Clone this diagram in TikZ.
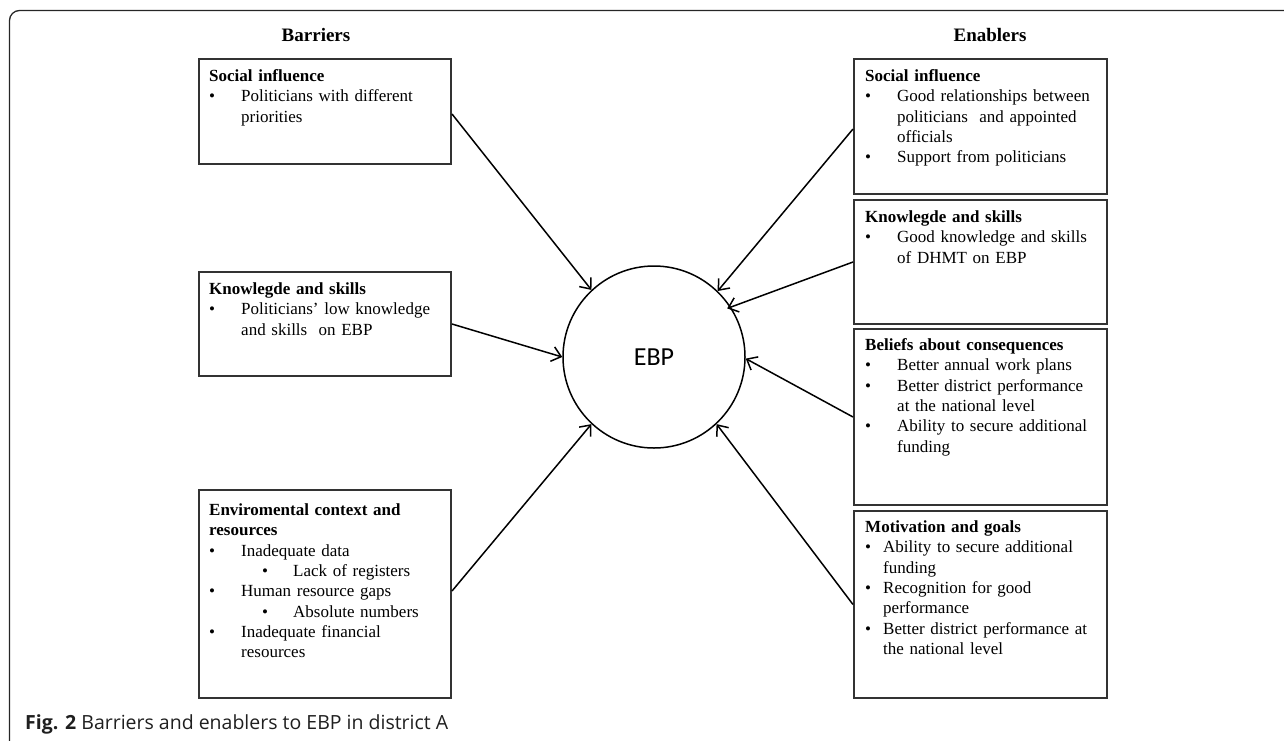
\documentclass[tikz,border=0pt]{standalone}
\usepackage{fontspec}
\setmainfont{Liberation Serif}
\newfontfamily\capfont{Open Sans}
\newfontfamily\ebpfont{Carlito}
\usetikzlibrary{arrows.meta,calc}
\newcommand\bitem[3][0pt]{\par\noindent\hangindent=\dimexpr#1+#2\relax\hangafter=1\hspace*{#1}\makebox[#2][l]{\textbullet}{\let\\\newline #3}\par}
\newcommand\boxhead[1]{\par\noindent{\let\\\newline\bfseries #1}\par}
\tikzset{
  catbox/.style={draw=black!80, line width=2pt, rectangle, inner sep=0pt, anchor=north west},
  boxtext/.style={inner sep=0pt, anchor=north west, text width=240pt, align=left,
    font=\fontsize{17}{20.3}\selectfont},
  header/.style={font=\fontsize{19}{22}\selectfont\bfseries},
  link/.style={line width=1.5pt, -{Straight Barb[length=9pt,width=15pt,line width=1.5pt]}},
}
\begin{document}
\begin{tikzpicture}[x=1pt,y=-1pt]
\useasboundingbox (0,0) rectangle (1284,740);
% frame
\draw[line width=1.3pt, black!85, rounded corners=10pt] (9.5,745) -- (9.5,10.5) -- (1290,10.5);

% headers
\node[header] (hb) at (316,35) {Barriers};
\node[header] (he) at (990,35) {Enablers};

% centre
\node[circle, draw, line width=1.5pt, minimum size=182pt, inner sep=0pt,
  font=\ebpfont\fontsize{26}{30}\selectfont] (ebp) at (654,357) {EBP};

% left boxes
\node[catbox, minimum width=252pt, minimum height=105pt] (l1) at (198,58) {};
\node[catbox, minimum width=252pt, minimum height=104pt] (l2) at (198,271) {};
\node[catbox, minimum width=252pt, minimum height=208pt] (l3) at (198,489) {};
% right boxes
\node[catbox, minimum width=253pt, minimum height=135pt] (r1) at (853,58) {};
\node[catbox, minimum width=253pt, minimum height=124pt] (r2) at (853,199) {};
\node[catbox, minimum width=253pt, minimum height=176pt] (r3) at (853,328) {};
\node[catbox, minimum width=253pt, minimum height=187pt] (r4) at (853,510) {};

% texts
\node[boxtext] (t1) at ([xshift=11pt,yshift=-3pt]l1.north west) {%
  \boxhead{Social influence}%
  \bitem{32pt}{Politicians with different\\priorities}};
\node[boxtext] (t2) at ([xshift=11pt,yshift=-3pt]l2.north west) {%
  \boxhead{Knowlegde and skills}%
  \bitem{32pt}{Politicians’ low knowledge\\and skills \ on EBP}};
\node[boxtext] (t3) at ([xshift=11pt,yshift=-6pt]l3.north west) {%
  \boxhead{Enviromental context and\\resources}%
  \bitem{32pt}{Inadequate data}%
  \bitem[53pt]{31pt}{Lack of registers}%
  \bitem{32pt}{Human resource gaps}%
  \bitem[53pt]{31pt}{Absolute numbers}%
  \bitem{32pt}{Inadequate financial\\resources}};
\node[boxtext] (t4) at ([xshift=12pt,yshift=-3pt]r1.north west) {%
  \boxhead{Social influence}%
  \bitem{32pt}{Good relationships between\\politicians \ and appointed\\officials}%
  \bitem{32pt}{Support from politicians}};
\node[boxtext] (t5) at ([xshift=12pt,yshift=-3pt]r2.north west) {%
  \boxhead{Knowlegde and skills}%
  \bitem{32pt}{Good knowledge and skills\\of DHMT on EBP}};
\node[boxtext] (t6) at ([xshift=12pt,yshift=-2pt]r3.north west) {%
  \boxhead{Beliefs about consequences}%
  \bitem{32pt}{Better annual work plans}%
  \bitem{32pt}{Better district performance\\at the national level}%
  \bitem{32pt}{Ability to secure additional\\funding}};
\node[boxtext] (t7) at ([xshift=12pt,yshift=-2pt]r4.north west) {%
  \boxhead{Motivation and goals}%
  \bitem{18pt}{Ability to secure additional\\funding}%
  \bitem{18pt}{Recognition for good\\performance}%
  \bitem{18pt}{Better district performance at\\the national level}};

% connectors
\draw[link] ([yshift=-2.5pt]l1.east) -- (ebp.133);
\draw[link] (l2.east) -- (ebp.180);
\draw[link] ([yshift=3pt]l3.east) -- (ebp.227);
\draw[link] ([yshift=-2.5pt]r1.west) -- (ebp.46);
\draw[link, shorten >=-4pt] (r2.west) -- (ebp.33);
\draw[link] (r3.west) -- (ebp.-1);
\draw[link] (r4.west) -- (ebp.-47);

% caption
\node[anchor=base west, inner sep=0pt, text=black!88, font=\capfont\fontsize{19.5}{22}\selectfont] (cap) at (25,729)
  {\textbf{Fig. 2} Barriers and enablers to EBP in district A};
\end{tikzpicture}
\end{document}
